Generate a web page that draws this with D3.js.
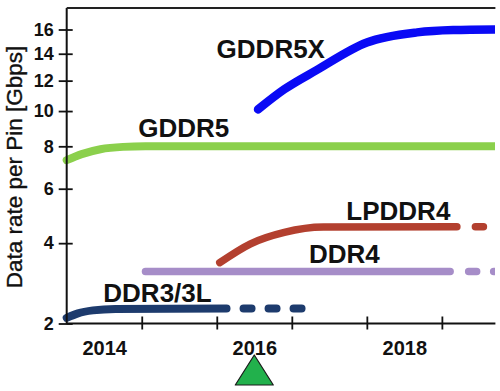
<!DOCTYPE html>
<html><head><meta charset="utf-8">
<script src="https://cdn.jsdelivr.net/npm/d3@7"></script>
<style>
html,body{margin:0;padding:0;background:#fff;}
svg{display:block;font-family:"Liberation Sans",Arial,Helvetica,sans-serif;}
</style></head>
<body>
<svg id="chart" width="500" height="391"></svg>
<script>
// ---- data ----
const yTickValues = [2, 4, 6, 8, 10, 12, 14, 16];
const xTickYears = [2015, 2016, 2017, 2018, 2019];
const yearLabels = [2014, 2016, 2018];
const markerYear = 2016;

const gddr5 = [[2014.0, 7.3], [2014.2, 7.6], [2014.45, 7.85], [2014.75, 7.97], [2015.05, 8.0], [2019.7, 8.0]];
const gddr5x = [[2016.55, 10.1], [2016.9, 11.4], [2017.33, 12.75], [2018.0, 14.9], [2018.67, 15.75], [2019.15, 15.95], [2019.7, 16.0]];
const lpddr4 = [[2016.04, 3.42], [2016.45, 3.98], [2016.9, 4.35], [2017.42, 4.53], [2019.2, 4.54]];
const lpddr4Projected = [2019.447, 2019.56];
const ddr4 = [[2015.05, 3.18], [2019.11, 3.18]];
const ddr4Projected = [2019.357, 2019.7];
const ddr3 = [[2014.0, 2.11], [2014.15, 2.2], [2014.35, 2.26], [2014.65, 2.29], [2016.13, 2.3]];
const ddr3Projected = [2016.357, 2017.13];

const seriesNames = ["GDDR5X", "GDDR5", "LPDDR4", "DDR4", "DDR3/3L"];
const labelAnchors = [[2016.72, 13.7], [2015.56, 8.5], [2018.42, 4.78], [2017.70, 3.40], [2015.21, 2.445]];

// ---- layout ----
const svg = d3.select("#chart");
const mLeft = 66.7, mRight = 494.4, mBottom = 323.5, mTop = 8;
const x = d3.scaleLinear().domain([2014, 2019.7]).range([mLeft, mRight]);
const y = d3.scalePow().exponent(0.27).domain([2, 16]).range([mBottom, 29.5]);

svg.append("defs").append("clipPath").attr("id", "clipR")
  .append("rect").attr("x", 0).attr("y", 0).attr("width", mRight + 0.5).attr("height", 391);

const line = d3.line().x(d => x(d[0])).y(d => y(d[1])).curve(d3.curveMonotoneX);
const plot = svg.append("g").attr("clip-path", "url(#clipR)");

function drawSeries(data, color, width, projected) {
  plot.append("path").datum(data).attr("d", line)
    .attr("fill", "none").attr("stroke", color).attr("stroke-width", width)
    .attr("stroke-linecap", "round").attr("stroke-linejoin", "round");
  if (projected) {
    const v = data[data.length - 1][1];
    plot.append("path").datum([[projected[0], v], [projected[1], v]]).attr("d", line)
      .attr("fill", "none").attr("stroke", color).attr("stroke-width", width)
      .attr("stroke-linecap", "round").attr("stroke-dasharray", "8,17");
  }
}

drawSeries(gddr5, "#8bd04c", 8, null);
drawSeries(ddr4, "#a68dc8", 7.5, ddr4Projected);
drawSeries(lpddr4, "#b3402f", 7.5, lpddr4Projected);
drawSeries(ddr3, "#1d3b6d", 8, ddr3Projected);
drawSeries(gddr5x, "#0a0af5", 8.5, null);

// ---- axes ----
const yAxis = svg.append("g").attr("transform", `translate(${mLeft},0)`)
  .call(d3.axisLeft(y).tickValues(yTickValues).tickSize(8).tickPadding(5));
yAxis.select(".domain").remove();
yAxis.selectAll(".tick line").attr("x1", 6).attr("x2", -8).attr("stroke", "#111").attr("stroke-width", 1.8);
yAxis.selectAll(".tick text").attr("font-size", 18).attr("font-weight", "bold").attr("fill", "#111")
  .attr("font-family", "Liberation Sans, Arial, sans-serif").attr("x", -13);

const xAxis = svg.append("g").attr("transform", `translate(0,${mBottom})`)
  .call(d3.axisBottom(x).tickValues(xTickYears).tickFormat(""));
xAxis.select(".domain").remove();
xAxis.selectAll(".tick line").attr("y1", -7).attr("y2", 6).attr("stroke", "#111").attr("stroke-width", 1.8);

const xLab = svg.append("g").attr("transform", `translate(0,${mBottom})`)
  .call(d3.axisBottom(x).tickValues(yearLabels.map(v => v + 0.5)).tickSize(0).tickPadding(17)
    .tickFormat(d => String(Math.floor(d))));
xLab.select(".domain").remove();
xLab.selectAll(".tick text").attr("font-size", 20).attr("font-weight", "bold").attr("fill", "#111")
  .attr("font-family", "Liberation Sans, Arial, sans-serif");

// frame lines
svg.append("line").attr("x1", mLeft).attr("x2", mLeft).attr("y1", mTop).attr("y2", mBottom)
  .attr("stroke", "#111").attr("stroke-width", 2);
svg.append("line").attr("x1", mLeft).attr("x2", mRight + 1).attr("y1", mBottom).attr("y2", mBottom)
  .attr("stroke", "#111").attr("stroke-width", 2);
svg.append("line").attr("x1", mLeft).attr("x2", mRight + 1).attr("y1", mTop).attr("y2", mTop)
  .attr("stroke", "#222").attr("stroke-width", 2);

// y title
svg.append("text").attr("transform", `translate(22,167) rotate(-90)`)
  .attr("text-anchor", "middle").attr("font-size", 22.5).attr("fill", "#111")
  .attr("stroke", "#111").attr("stroke-width", 0.35)
  .text("Data rate per Pin [Gbps]");

// series labels
svg.selectAll("text.slabel").data(seriesNames).enter().append("text")
  .attr("class", "slabel")
  .attr("x", (d, i) => x(labelAnchors[i][0]))
  .attr("y", (d, i) => y(labelAnchors[i][1]))
  .attr("text-anchor", "middle").attr("font-size", 26).attr("font-weight", "bold").attr("fill", "#111")
  .text(d => d);

// green marker triangle
const mx = x(markerYear + 0.5);
svg.append("path")
  .attr("d", `M${mx},355 L${mx + 19},385 L${mx - 19},385 Z`)
  .attr("fill", "#22b14c").attr("stroke", "#1a1a1a").attr("stroke-width", 1.2).attr("stroke-linejoin", "round");
</script>
</body></html>
